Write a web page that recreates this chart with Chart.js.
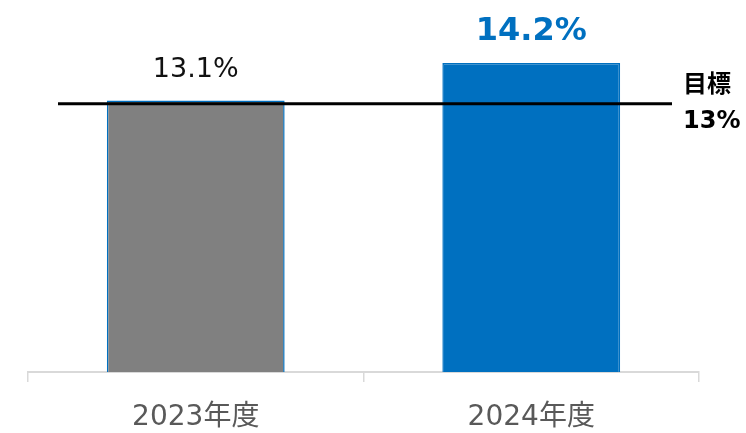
<!DOCTYPE html>
<html>
<head>
<meta charset="utf-8">
<script src="https://cdn.jsdelivr.net/npm/chart.js@4"></script>
<style>
  body { margin: 0; background: #fff; }
  #wrap { width: 746px; height: 433px; }
</style>
</head>
<body>
<div id="wrap"><canvas id="rate"></canvas></div>
<script>
var categories = ['2023年度', '2024年度'];
var values = [13.1, 14.2];
var barColors = ['#808080', '#0070c0'];
var target = 13;
var targetLabel = ['目標', '13%'];

var FONT = '"DejaVu Sans", "Noto Sans CJK JP", sans-serif';

// value labels above the bars + target line with its label
var overlay = {
    id: 'overlay',
    afterDatasetsDraw: function (chart) {
        var ctx = chart.ctx;
        var meta = chart.getDatasetMeta(0);
        var area = chart.chartArea;
        ctx.save();
        ctx.textAlign = 'center';
        ctx.textBaseline = 'alphabetic';
        meta.data.forEach(function (bar, i) {
            if (i == 1) {
                ctx.font = 'bold 32px ' + FONT;
                ctx.fillStyle = '#0070c0';
            } else {
                ctx.font = '27px ' + FONT;
                ctx.fillStyle = '#111';
            }
            ctx.fillText(values[i].toFixed(1) + '%', bar.x, bar.y - 23);
        });
        var y = chart.scales.y.getPixelForValue(target);
        ctx.strokeStyle = '#000';
        ctx.lineWidth = 3;
        ctx.beginPath();
        ctx.moveTo(area.left + 30, y);
        ctx.lineTo(area.right - 27, y);
        ctx.stroke();
        ctx.textAlign = 'left';
        ctx.textBaseline = 'middle';
        ctx.fillStyle = '#000';
        ctx.font = 'bold 24px ' + FONT;
        ctx.fillText(targetLabel[0], area.right - 16, y - 18);
        ctx.fillText(targetLabel[1], area.right - 16, y + 18);
        ctx.restore();
    }
};

var chart = new Chart('rate', {
    type: 'bar',
    data: {
        labels: categories,
        datasets: [{
            data: values,
            backgroundColor: barColors,
            borderColor: '#0070c0',
            borderWidth: 1.5,
            barPercentage: 0.53,
            categoryPercentage: 1
        }]
    },
    options: {
        responsive: true,
        maintainAspectRatio: false,
        animation: false,
        layout: { padding: { left: 28, right: 47, top: 2, bottom: -21 } },
        plugins: { legend: { display: false }, tooltip: { enabled: false } },
        scales: {
            x: {
                border: { color: '#d9d9d9', width: 2 },
                grid: { drawOnChartArea: false, drawTicks: true, tickLength: 10, color: '#d9d9d9', lineWidth: 1.5, offset: true },
                ticks: { color: '#595959', padding: 22, font: { family: FONT, size: 28, lineHeight: 1 } }
            },
            y: { display: false, min: 5.1, max: 16 }
        }
    },
    plugins: [overlay]
});
</script>
</body>
</html>
